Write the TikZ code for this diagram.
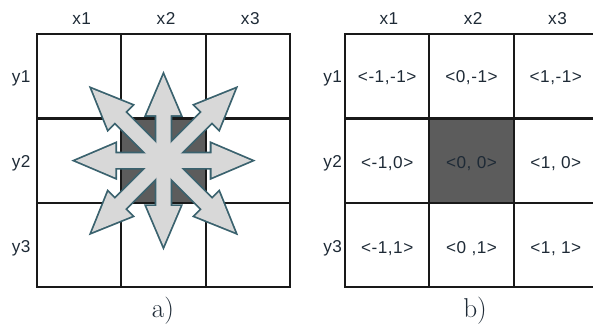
\documentclass[tikz,border=0pt]{standalone}
\usepackage{fontspec}
\setsansfont[LetterSpace=3]{Liberation Sans}

\definecolor{textoazul}{RGB}{30,42,54}
\definecolor{celdaoscura}{RGB}{92,92,92}
\definecolor{bordeflecha}{RGB}{58,98,110}
\definecolor{rellenoflecha}{RGB}{216,216,216}

\tikzset{
    etiqueta/.style={font=\sffamily\fontsize{14.5}{17}\selectfont, text=textoazul, inner sep=1pt},
    rotulo/.style={font=\fontsize{23}{27}\selectfont, text=textoazul, inner sep=0pt},
    rejilla/.style={line width=1.8pt, black!90, line cap=rect},
    contornoflecha/.style={draw=bordeflecha, fill=bordeflecha, line width=3pt, line join=miter},
    cuerpoflecha/.style={fill=rellenoflecha}
}

% Flecha doble: semilongitud, punta 0.47, media punta 0.2, medio cuerpo 0.085
\newcommand{\flechadoble}[1]{%
    (-#1,0) -- ({-#1+0.47},0.2) -- ({-#1+0.47},0.085) -- ({#1-0.47},0.085)
    -- ({#1-0.47},0.2) -- (#1,0) -- ({#1-0.47},-0.2) -- ({#1-0.47},-0.085)
    -- ({-#1+0.47},-0.085) -- ({-#1+0.47},-0.2) -- cycle}

\begin{document}
\begin{tikzpicture}[x=2.5cm, y=2.5cm]
    \useasboundingbox (-0.439,-0.439) rectangle (6.595,3.405);

    % a) Vecindad con flechas
    \fill[celdaoscura] (1,1) rectangle (2,2);
    \foreach \i in {0,...,3} {
        \draw[rejilla] (\i,0) -- (\i,3);
        \draw[rejilla] (0,\i) -- (3,\i);
    }

    % Primero los bordes, luego el relleno (union de las flechas)
    \foreach \ang/\lon in {0/1.04, 90/1.01, 45/1.2, 135/1.2}
        \path[contornoflecha, shift={(1.5,1.5)}, rotate=\ang] \flechadoble{\lon};
    \foreach \ang/\lon in {0/1.04, 90/1.01, 45/1.2, 135/1.2}
        \path[cuerpoflecha, shift={(1.5,1.5)}, rotate=\ang] \flechadoble{\lon};

    \node[etiqueta] (ax1) at (0.53,3.19) {x1};
    \node[etiqueta] (ax2) at (1.53,3.19) {x2};
    \node[etiqueta] (ax3) at (2.53,3.19) {x3};
    \node[etiqueta, anchor=east] (ay1) at (-0.06,2.48) {y1};
    \node[etiqueta, anchor=east] (ay2) at (-0.06,1.47) {y2};
    \node[etiqueta, anchor=east] (ay3) at (-0.06,0.46) {y3};
    \node[rotulo] (ra) at (1.495,-0.28) {a)};

    % b) Desplazamientos de cada celda
    \begin{scope}[shift={(3.654,0)}]
        \fill[celdaoscura] (1,1) rectangle (2,2);
        \foreach \i in {0,...,3} {
            \draw[rejilla] (\i,0) -- (\i,3);
            \draw[rejilla] (0,\i) -- (3,\i);
        }

        \node[etiqueta] (bx1) at (0.52,3.19) {x1};
        \node[etiqueta] (bx2) at (1.52,3.19) {x2};
        \node[etiqueta] (bx3) at (2.52,3.19) {x3};
        \node[etiqueta, anchor=east] (by1) at (-0.02,2.48) {y1};
        \node[etiqueta, anchor=east] (by2) at (-0.02,1.47) {y2};
        \node[etiqueta, anchor=east] (by3) at (-0.02,0.46) {y3};

        \node[etiqueta] (c11) at (0.5,2.48) {<-1,-1>};
        \node[etiqueta] (c12) at (1.5,2.48) {<0,-1>};
        \node[etiqueta] (c13) at (2.5,2.48) {<1,-1>};
        \node[etiqueta] (c21) at (0.5,1.47) {<-1,0>};
        \node[etiqueta] (c22) at (1.5,1.47) {<0, 0>};
        \node[etiqueta] (c23) at (2.5,1.47) {<1, 0>};
        \node[etiqueta] (c31) at (0.5,0.46) {<-1,1>};
        \node[etiqueta] (c32) at (1.5,0.46) {<0 ,1>};
        \node[etiqueta] (c33) at (2.5,0.46) {<1, 1>};

        \node[rotulo] (rb) at (1.542,-0.28) {b)};
    \end{scope}
\end{tikzpicture}
\end{document}
